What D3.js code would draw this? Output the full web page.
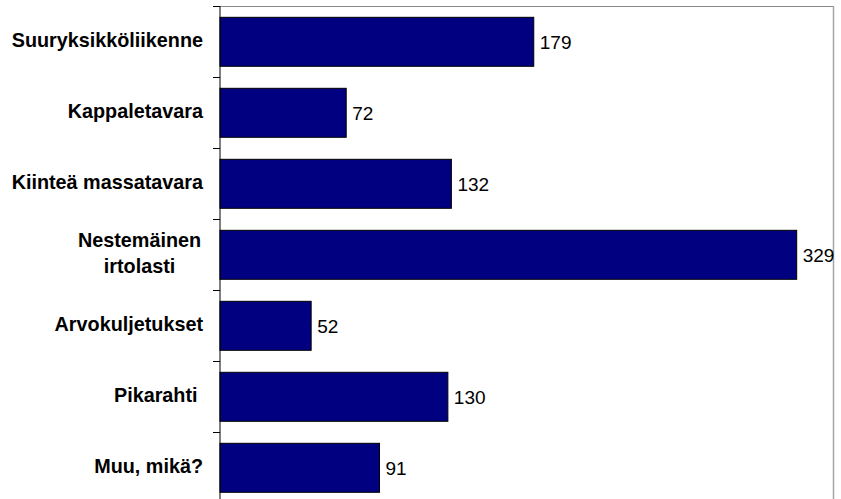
<!DOCTYPE html>
<html>
<head>
<meta charset="utf-8">
<script src="https://cdn.jsdelivr.net/npm/d3@7"></script>
<style>
  html, body { margin: 0; padding: 0; background: #fff; }
  svg { display: block; }
  text { font-family: "Liberation Sans", Arial, sans-serif; }
</style>
</head>
<body>
<script>
// Kuljetustyypit ja niiden lukumäärät
const categories = [
  "Suuryksikköliikenne",
  "Kappaletavara",
  "Kiinteä massatavara",
  "Nestemäinen irtolasti",
  "Arvokuljetukset",
  "Pikarahti",
  "Muu, mikä?"
];
const values = [179, 72, 132, 329, 52, 130, 91];
// Pitkät nimet kahdelle riville
const labelLines = [
  ["Suuryksikköliikenne"],
  ["Kappaletavara"],
  ["Kiinteä massatavara"],
  ["Nestemäinen", "irtolasti"],
  ["Arvokuljetukset"],
  ["Pikarahti "],
  ["Muu, mikä?"]
];
const xMax = 350;

const W = 841, H = 499;
const plot = { left: 220, right: 833.5, top: 6.3, bottom: 503.3 };

const svg = d3.select("body").append("svg")
  .attr("width", W).attr("height", H);

const x = d3.scaleLinear().domain([0, xMax]).range([plot.left, plot.right]);
const y = d3.scaleBand().domain(categories)
  .range([plot.top, plot.bottom])
  .paddingInner(0.31).paddingOuter(0.155);

// Kuvaajan kehys: ylä- ja oikea reuna harmaana
svg.append("line")
  .attr("x1", plot.left).attr("x2", plot.right + 0.5)
  .attr("y1", Math.round(plot.top) + 0.5).attr("y2", Math.round(plot.top) + 0.5)
  .attr("stroke", "#888").attr("stroke-width", 1);
svg.append("line")
  .attr("x1", plot.right).attr("x2", plot.right)
  .attr("y1", plot.top).attr("y2", H)
  .attr("stroke", "#a6a6a6").attr("stroke-width", 1.5);

// Palkit
svg.append("g").selectAll("rect")
  .data(categories)
  .join("rect")
  .attr("x", x(0))
  .attr("y", d => y(d))
  .attr("width", (d, i) => x(values[i]) - x(0))
  .attr("height", y.bandwidth())
  .attr("fill", "#000080")
  .attr("stroke", "#000")
  .attr("stroke-width", 1);

// Arvot palkkien perään
svg.append("g").selectAll("text")
  .data(categories)
  .join("text")
  .attr("x", (d, i) => x(values[i]) + 6)
  .attr("y", d => y(d) + y.bandwidth() / 2 + 7)
  .attr("font-size", 19)
  .attr("fill", "#000")
  .text((d, i) => values[i]);

// Pystyakseli ja väliviivat luokkien rajoilla
const step = y.step();
const axis = svg.append("g");
axis.append("line")
  .attr("x1", plot.left).attr("x2", plot.left)
  .attr("y1", plot.top).attr("y2", H)
  .attr("stroke", "#000").attr("stroke-width", 1);
const boundaries = categories.map(d => y(d) - step * y.paddingInner() / 2);
axis.selectAll("line.tick")
  .data(boundaries)
  .join("line")
  .attr("class", "tick")
  .attr("x1", plot.left - 7).attr("x2", plot.left)
  .attr("y1", d => Math.round(d) + 0.5).attr("y2", d => Math.round(d) + 0.5)
  .attr("stroke", "#000").attr("stroke-width", 1);

// Luokkien nimet
const lineGap = 26;
const labels = svg.append("g").selectAll("text")
  .data(categories)
  .join("text")
  .attr("font-size", 19.8)
  .attr("font-weight", "bold")
  .attr("fill", "#000")
  .style("white-space", "pre")
  .attr("text-anchor", (d, i) => labelLines[i].length > 1 ? "middle" : "end");

labels.each(function (d, i) {
  const lines = labelLines[i];
  const t = d3.select(this);
  const cy = y(d) + y.bandwidth() / 2 + 5.5 - (lines.length - 1) * lineGap / 2;
  lines.forEach((ln, k) => {
    t.append("tspan")
      .attr("x", lines.length > 1 ? 139.5 : 203)
      .attr("y", cy + k * lineGap)
      .text(ln);
  });
});
</script>
</body>
</html>
